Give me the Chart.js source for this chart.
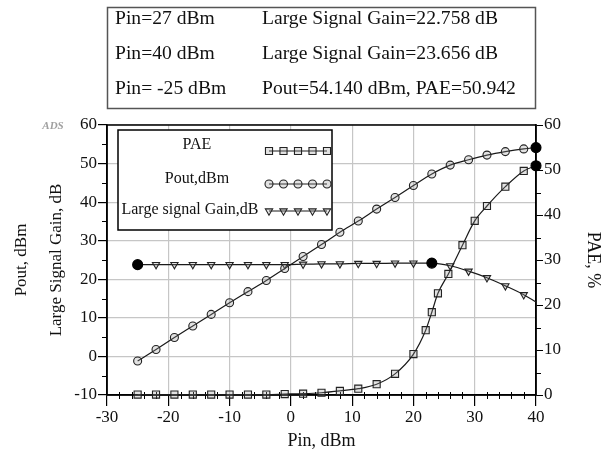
<!DOCTYPE html>
<html>
<head>
<meta charset="utf-8">
<script src="https://cdn.jsdelivr.net/npm/chart.js@4.4.1/dist/chart.umd.min.js"></script>
<style>
  body { margin: 0; background: #fff; }
  #wrap { width: 611px; height: 455px; }
</style>
</head>
<body>
<div id="wrap"><canvas id="ampChart" width="611" height="455"></canvas></div>
<script>
// input power sweep (dBm) for Pout and gain traces
var pinSweep = [-25, -22, -19, -16, -13, -10, -7, -4, -1, 2, 5, 8, 11, 14, 17, 20, 23, 26, 29, 32, 35, 38, 40];
var pout = [-1.2, 1.8, 4.9, 7.9, 10.9, 13.9, 16.8, 19.7, 22.8, 25.9, 29.0, 32.2, 35.1, 38.2, 41.2, 44.3, 47.3, 49.6, 51.0, 52.2, 53.1, 53.8, 54.14];
var gain = [23.8, 23.8, 23.8, 23.8, 23.8, 23.8, 23.8, 23.8, 23.8, 23.9, 24.0, 24.0, 24.1, 24.1, 24.2, 24.2, 24.2, 23.5, 22.1, 20.4, 18.3, 16.0, 14.1];

// PAE trace has its own symbol positions
var pinPae = [-25, -22, -19, -16, -13, -10, -7, -4, -1, 2, 5, 8, 11, 14, 17, 20, 22, 23, 24, 25.7, 28, 30, 32, 35, 38, 40];
var pae = [0.1, 0.1, 0.1, 0.1, 0.1, 0.1, 0.1, 0.1, 0.2, 0.3, 0.5, 0.9, 1.4, 2.4, 4.7, 9.1, 14.4, 18.4, 22.6, 26.9, 33.3, 38.7, 42.0, 46.3, 49.8, 50.942];

// marker readouts (filled dots) and points drawn without a symbol
var poutMarks = [40];
var paeMarks = [40];
var gainMarks = [-25, 23];
var gainNoSymbol = [40];

var infoLines = [
  ['Pin=27 dBm', 'Large Signal Gain=22.758 dB'],
  ['Pin=40 dBm', 'Large Signal Gain=23.656 dB'],
  ['Pin= -25 dBm', 'Pout=54.140 dBm, PAE=50.942']
];
var legendLabels = ['PAE', 'Pout,dBm', 'Large signal Gain,dB'];

var SERIF = "'Liberation Serif', 'Times New Roman', serif";
var INK = '#111';
var SYMBOL_FILL = 'rgba(150,150,150,0.28)';

function pts(xs, ys) {
  return xs.map(function (x, i) { return { x: x, y: ys[i] }; });
}

function traceStyle(marks, noSymbol, style, r) {
  function isMark(c) { return c.raw && marks.indexOf(c.raw.x) >= 0; }
  function isBare(c) { return c.raw && noSymbol.indexOf(c.raw.x) >= 0; }
  return {
    showLine: true,
    clip: 8,
    borderColor: '#1a1a1a',
    borderWidth: 1.2,
    tension: 0.4,
    cubicInterpolationMode: 'monotone',
    pointStyle: function (c) { return isMark(c) ? 'circle' : style; },
    pointRadius: function (c) { return isMark(c) ? 5 : (isBare(c) ? 0 : r); },
    pointBackgroundColor: function (c) { return isMark(c) ? '#000' : SYMBOL_FILL; },
    pointBorderColor: function (c) { return isMark(c) ? '#000' : '#222'; },
    pointBorderWidth: 1.1,
    pointRotation: function (c) { return (style === 'triangle' && !isMark(c)) ? 180 : 0; },
    legendStyle: style,
    legendRadius: r
  };
}

var paeSet = Object.assign({ label: 'PAE', data: pts(pinPae, pae), yAxisID: 'y1' }, traceStyle(paeMarks, [], 'rect', 5));
var poutSet = Object.assign({ label: 'Pout,dBm', data: pts(pinSweep, pout), yAxisID: 'y' }, traceStyle(poutMarks, [], 'circle', 4));
var gainSet = Object.assign({ label: 'Large signal Gain,dB', data: pts(pinSweep, gain), yAxisID: 'y' }, traceStyle(gainMarks, gainNoSymbol, 'triangle', 4.2));

// minor ticks, plot frame, legend box and the readout box above the plot
var decor = {
  id: 'decor',
  beforeDatasetsDraw: function (chart) {
    var a = chart.chartArea, ctx = chart.ctx;
    ctx.save();
    ctx.strokeStyle = '#000';
    ctx.lineWidth = 1.5;
    ctx.strokeRect(a.left, a.top, a.right - a.left, a.bottom - a.top);

    ctx.lineWidth = 1;
    var x = chart.scales.x, y = chart.scales.y, y1 = chart.scales.y1;
    var v, p;
    ctx.beginPath();
    for (v = -28; v < 40; v += 2) {
      if (v % 10 === 0) continue;
      p = Math.round(x.getPixelForValue(v)) + 0.5;
      ctx.moveTo(p, a.bottom - 3);
      ctx.lineTo(p, a.bottom + 4);
    }
    for (v = -5; v < 60; v += 10) {
      p = Math.round(y.getPixelForValue(v)) + 0.5;
      ctx.moveTo(a.left, p);
      ctx.lineTo(a.left - 5, p);
    }
    for (v = 5; v < 60; v += 10) {
      p = Math.round(y1.getPixelForValue(v)) + 0.5;
      ctx.moveTo(a.right, p);
      ctx.lineTo(a.right + 5, p);
    }
    ctx.stroke();
    ctx.restore();
  },
  afterDraw: function (chart) {
    var ctx = chart.ctx;
    ctx.save();

    // readout box
    ctx.strokeStyle = '#555';
    ctx.lineWidth = 1.5;
    ctx.strokeRect(107.5, 7.5, 428, 101);
    ctx.fillStyle = INK;
    ctx.font = '19.6px ' + SERIF;
    ctx.textBaseline = 'middle';
    ctx.textAlign = 'left';
    var rowY = [19, 54, 89];
    infoLines.forEach(function (row, i) {
      ctx.fillText(row[0], 115, rowY[i]);
      ctx.fillText(row[1], 262, rowY[i]);
    });

    // ADS tag
    ctx.fillStyle = '#a0a0a0';
    ctx.font = 'italic bold 11px ' + SERIF;
    ctx.textAlign = 'center';
    ctx.fillText('ADS', 53, 126);

    // legend
    ctx.fillStyle = '#fff';
    ctx.fillRect(118, 130, 214, 100);
    ctx.strokeStyle = '#000';
    ctx.lineWidth = 1.5;
    ctx.strokeRect(118, 130, 214, 100);
    var sets = chart.data.datasets;
    var textY = [145, 179, 210];
    var markY = [151, 184, 211];
    ctx.font = '16px ' + SERIF;
    ctx.textAlign = 'center';
    sets.forEach(function (ds, i) {
      ctx.fillStyle = INK;
      ctx.fillText(legendLabels[i], i === 2 ? 190 : 197, textY[i]);
      ctx.strokeStyle = '#1a1a1a';
      ctx.lineWidth = 1.2;
      ctx.beginPath();
      ctx.moveTo(269, markY[i]);
      ctx.lineTo(327, markY[i]);
      ctx.stroke();
      for (var k = 0; k < 5; k++) {
        ctx.fillStyle = SYMBOL_FILL;
        ctx.strokeStyle = '#222';
        ctx.lineWidth = 1.1;
        Chart.helpers.drawPoint(ctx, {
          pointStyle: ds.legendStyle,
          radius: ds.legendRadius,
          rotation: ds.legendStyle === 'triangle' ? 180 : 0,
          borderWidth: 1.1
        }, 269 + k * 14.5, markY[i]);
      }
    });
    ctx.restore();
  }
};

var tickFont = { family: SERIF, size: 17 };

new Chart(document.getElementById('ampChart'), {
  type: 'scatter',
  data: { datasets: [paeSet, poutSet, gainSet] },
  options: {
    responsive: false,
    animation: false,
    layout: { padding: { top: 125, left: 0, right: 0, bottom: 0 } },
    plugins: { legend: { display: false }, tooltip: { enabled: false } },
    scales: {
      x: {
        type: 'linear',
        min: -30, max: 40,
        ticks: { stepSize: 10, font: tickFont, color: INK, padding: 1 },
        grid: { color: '#c6c6c6', lineWidth: 1.2, tickColor: '#000', tickLength: 11 },
        border: { display: true, color: '#000', width: 1.5 },
        title: { display: true, text: 'Pin, dBm', color: INK, font: { family: SERIF, size: 18, lineHeight: '20px' }, padding: { top: 0, bottom: 4 } },
        afterFit: function (s) { s.height = 60; }
      },
      y: {
        position: 'left',
        min: -10, max: 60,
        ticks: { stepSize: 10, font: tickFont, color: INK, padding: 1 },
        grid: { color: '#c6c6c6', lineWidth: 1.2, tickColor: '#000', tickLength: 9 },
        border: { display: true, color: '#000', width: 1.5 },
        title: { display: true, text: ['Pout, dBm', 'Large Signal Gain, dB'], color: INK, font: { family: SERIF, size: 17, lineHeight: '35px' }, padding: { top: 4, bottom: 0 } },
        afterFit: function (s) { s.width = 107; }
      },
      y1: {
        position: 'right',
        min: 0, max: 60,
        ticks: { stepSize: 10, font: tickFont, color: INK, padding: 1 },
        grid: { drawOnChartArea: false, tickColor: '#000', tickLength: 7 },
        border: { display: true, color: '#000', width: 1.5 },
        title: { display: true, text: 'PAE, %', color: INK, font: { family: SERIF, size: 18, lineHeight: '20px' }, padding: { top: 8, bottom: 0 } },
        afterFit: function (s) { s.width = 75; }
      }
    }
  },
  plugins: [decor]
});
</script>
</body>
</html>
